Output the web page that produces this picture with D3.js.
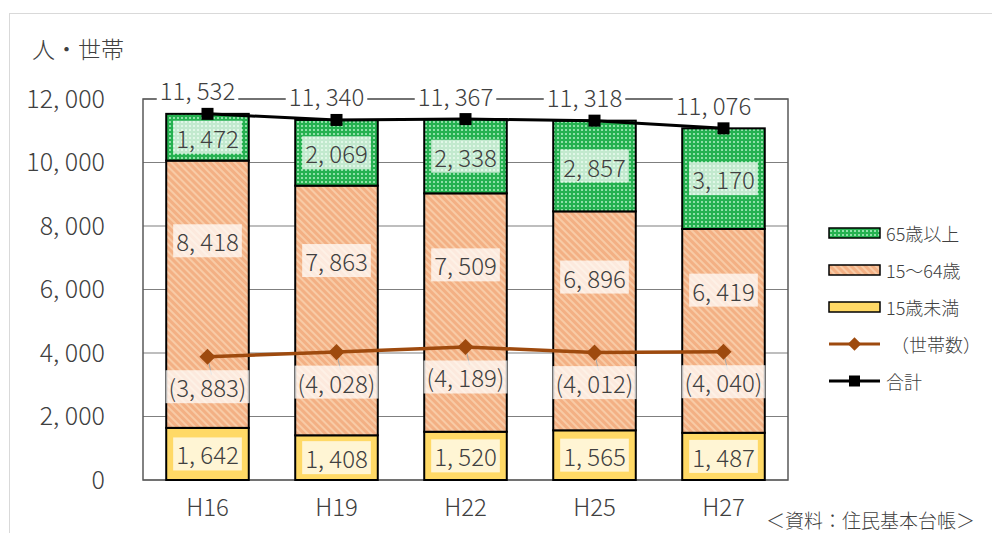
<!DOCTYPE html>
<html>
<head>
<meta charset="utf-8">
<script src="https://cdn.jsdelivr.net/npm/d3@7"></script>
<style>
  body { margin: 0; background: #fff; }
  text { font-family: "Noto Sans CJK JP", "Noto Sans", sans-serif; font-weight: 300; fill: #404040; }
</style>
</head>
<body>
<script>
const w = 992;
const h = 533;

const years = ["H16", "H19", "H22", "H25", "H27"];
const under15 = [1642, 1408, 1520, 1565, 1487];
const age15to64 = [8418, 7863, 7509, 6896, 6419];
const over65 = [1472, 2069, 2338, 2857, 3170];
const households = [3883, 4028, 4189, 4012, 4040];
const totals = [11532, 11340, 11367, 11318, 11076];
const yTicks = [0, 2000, 4000, 6000, 8000, 10000, 12000];

const fmt = v => d3.format(",")(v).replace(",", ", ");

const svg = d3.select("body")
  .append("svg")
  .attr("width", w)
  .attr("height", h);

// PATTERNS
const defs = svg.append("defs");
const green = defs.append("pattern")
  .attr("id", "pGreen")
  .attr("width", 4).attr("height", 4)
  .attr("patternUnits", "userSpaceOnUse");
green.append("rect").attr("width", 4).attr("height", 4).attr("fill", "#25b150");
green.append("rect").attr("x", 1).attr("y", 1).attr("width", 2).attr("height", 2).attr("fill", "#8fe0a8");

const orange = defs.append("pattern")
  .attr("id", "pOrange")
  .attr("width", 5).attr("height", 5)
  .attr("patternUnits", "userSpaceOnUse")
  .attr("patternTransform", "rotate(-45)");
orange.append("rect").attr("width", 5).attr("height", 5).attr("fill", "#f3b084");
orange.append("rect").attr("width", 2).attr("height", 5).attr("fill", "#f8cba6");

// OUTER FRAME
svg.append("rect")
  .attr("x", 9.5).attr("y", 13.5)
  .attr("width", 1000).attr("height", 600)
  .attr("fill", "none")
  .attr("stroke", "#d9d9d9");

const xScale = d3.scaleBand()
  .domain(years)
  .range([143, 788])
  .paddingInner(0.36)
  .paddingOuter(0.18);

const yScale = d3.scaleLinear()
  .domain([0, 12000])
  .range([480, 99]);

// GRID
svg.append("g")
  .selectAll("line")
  .data(yTicks)
  .join("line")
  .attr("x1", 143).attr("x2", 788)
  .attr("y1", d => yScale(d)).attr("y2", d => yScale(d))
  .attr("stroke", "#7f7f7f")
  .attr("stroke-width", 1.2);

// PLOT BORDER
svg.append("rect")
  .attr("x", 143).attr("y", yScale(12000))
  .attr("width", 645).attr("height", yScale(0) - yScale(12000))
  .attr("fill", "none")
  .attr("stroke", "#595959")
  .attr("stroke-width", 1.5);

// Y AXIS
const yAxis = svg.append("g")
  .attr("transform", "translate(105, 0)")
  .call(d3.axisLeft(yScale).tickValues(yTicks).tickFormat(fmt).tickSize(0).tickPadding(0));
yAxis.select(".domain").remove();
yAxis.selectAll("text")
  .attr("font-size", 25)
  .style("font-family", '"Noto Sans CJK JP", sans-serif')
  .style("font-weight", 300)
  .attr("fill", "#404040");

// X AXIS
const xAxis = svg.append("g")
  .attr("transform", "translate(0, 480)")
  .call(d3.axisBottom(xScale).tickSize(0).tickPadding(19));
xAxis.select(".domain").remove();
xAxis.selectAll("text")
  .attr("font-size", 24)
  .style("font-family", '"Noto Sans CJK JP", sans-serif')
  .style("font-weight", 300)
  .attr("fill", "#404040");

// STACKED BARS
const rows = years.map((y, i) => ({ year: y, u15: under15[i], mid: age15to64[i], o65: over65[i] }));
const stack = d3.stack().keys(["u15", "mid", "o65"])(rows);
const fills = { u15: "#ffd966", mid: "url(#pOrange)", o65: "url(#pGreen)" };

svg.append("g")
  .selectAll("g")
  .data(stack)
  .join("g")
  .attr("fill", d => fills[d.key])
  .selectAll("rect")
  .data(d => d)
  .join("rect")
  .attr("x", d => xScale(d.data.year))
  .attr("width", xScale.bandwidth())
  .attr("y", d => yScale(d[1]))
  .attr("height", d => yScale(d[0]) - yScale(d[1]))
  .attr("stroke", "#000")
  .attr("stroke-width", 2);

// LABEL HELPER
function label(g, x, y, txt, size, bg) {
  const t = g.append("text")
    .attr("x", x).attr("y", y)
    .attr("text-anchor", "middle")
    .attr("dominant-baseline", "central")
    .attr("font-size", size)
    .text(txt);
  const b = t.node().getBBox();
  g.insert("rect", () => t.node())
    .attr("x", b.x - 3).attr("y", b.y + 1)
    .attr("width", b.width + 6).attr("height", b.height - 2)
    .attr("fill", bg);
}

const labels = svg.append("g");
stack.forEach(s => {
  s.forEach(d => {
    const v = d[1] - d[0];
    let pos = (d[0] + d[1]) / 2;
    if (s.key === "mid") pos = d[0] + v * 0.7;
    label(labels, xScale(d.data.year) + xScale.bandwidth() / 2, yScale(pos), fmt(v), 24, "rgba(255,255,255,0.72)");
  });
});

// HOUSEHOLD LINE
const cx = d => xScale(d) + xScale.bandwidth() / 2;
const hhLine = d3.line()
  .x((d, i) => cx(years[i]))
  .y(d => yScale(d));

svg.append("path")
  .datum(households)
  .attr("d", hhLine)
  .attr("fill", "none")
  .attr("stroke", "#9e4a0e")
  .attr("stroke-width", 3.5);

svg.append("g")
  .selectAll("line")
  .data(households)
  .join("line")
  .attr("x1", (d, i) => cx(years[i]))
  .attr("x2", (d, i) => cx(years[i]) + 4)
  .attr("y1", d => yScale(d))
  .attr("y2", d => yScale(d) + 18)
  .attr("stroke", "#a6a6a6");

svg.append("g")
  .selectAll("path")
  .data(households)
  .join("path")
  .attr("d", d3.symbol(d3.symbolSquare, 130))
  .attr("transform", (d, i) => `translate(${cx(years[i])}, ${yScale(d)}) rotate(45)`)
  .attr("fill", "#9e4a0e");

households.forEach((d, i) => {
  label(svg.append("g"), cx(years[i]), yScale(d) + 30, "(" + fmt(d) + ")", 24, "rgba(255,255,255,0.72)");
});

// TOTAL LINE
const totLine = d3.line()
  .x((d, i) => cx(years[i]))
  .y(d => yScale(d));

svg.append("path")
  .datum(totals)
  .attr("d", totLine)
  .attr("fill", "none")
  .attr("stroke", "#000")
  .attr("stroke-width", 3);

svg.append("g")
  .selectAll("rect")
  .data(totals)
  .join("rect")
  .attr("x", (d, i) => cx(years[i]) - 6)
  .attr("y", d => yScale(d) - 6)
  .attr("width", 12).attr("height", 12)
  .attr("fill", "#000");

totals.forEach((d, i) => {
  label(svg.append("g"), cx(years[i]) - 10, yScale(d) - 24, fmt(d), 24, "#fff");
});

// TITLE
svg.append("text")
  .attr("x", 32).attr("y", 58)
  .attr("font-size", 23)
  .text("人・世帯");

// SOURCE
svg.append("text")
  .attr("x", 975).attr("y", 528)
  .attr("text-anchor", "end")
  .attr("font-size", 19)
  .text("＜資料：住民基本台帳＞");

// LEGEND
const legendItems = [
  { name: "65歳以上", type: "box", fill: "url(#pGreen)" },
  { name: "15～64歳", type: "box", fill: "url(#pOrange)" },
  { name: "15歳未満", type: "box", fill: "#ffd966" },
  { name: "（世帯数）", type: "diamond", fill: "#9e4a0e" },
  { name: "合計", type: "square", fill: "#000" }
];

const legend = svg.append("g");
legendItems.forEach((d, i) => {
  const y = 233 + i * 37;
  const g = legend.append("g").attr("transform", `translate(829, ${y})`);
  if (d.type === "box") {
    g.append("rect").attr("x", 0).attr("y", -5).attr("width", 51).attr("height", 10)
      .attr("fill", d.fill).attr("stroke", "#000").attr("stroke-width", 1.5);
  } else {
    g.append("line").attr("x1", 0).attr("x2", 51).attr("y1", 0).attr("y2", 0)
      .attr("stroke", d.fill).attr("stroke-width", 3);
    if (d.type === "diamond") {
      g.append("path").attr("d", d3.symbol(d3.symbolSquare, 90)).attr("transform", "translate(25.5, 0) rotate(45)").attr("fill", d.fill);
    } else {
      g.append("rect").attr("x", 20).attr("y", -5.5).attr("width", 11).attr("height", 11).attr("fill", d.fill);
    }
  }
  g.append("text")
    .attr("x", d.type === "diamond" ? 62 : 57)
    .attr("y", 0)
    .attr("dominant-baseline", "central")
    .attr("font-size", 18)
    .text(d.name);
});
</script>
</body>
</html>
